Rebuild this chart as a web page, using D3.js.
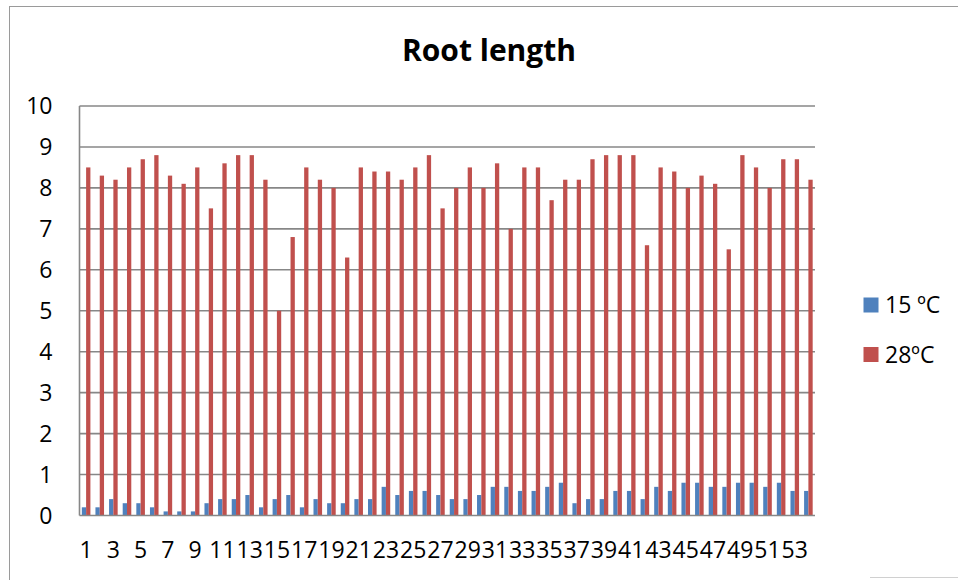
<!DOCTYPE html>
<html>
<head>
<meta charset="utf-8">
<script src="https://cdn.jsdelivr.net/npm/d3@7"></script>
<style>
  html, body { margin: 0; padding: 0; background: #fff; }
  svg { display: block; font-family: "Open Sans", "Liberation Sans", sans-serif; }
</style>
</head>
<body>
<svg id="chart" width="958" height="580"></svg>
<script>
const categories = d3.range(1, 55).map(String);
const seriesNames = ["15 ºC", "28ºC"];
const values15 = [0.2,0.2,0.4,0.3,0.3,0.2,0.1,0.1,0.1,0.3,0.4,0.4,0.5,0.2,0.4,0.5,0.2,0.4,0.3,0.3,
  0.4,0.4,0.7,0.5,0.6,0.6,0.5,0.4,0.4,0.5,0.7,0.7,0.6,0.6,0.7,0.8,0.3,0.4,0.4,0.6,
  0.6,0.4,0.7,0.6,0.8,0.8,0.7,0.7,0.8,0.8,0.7,0.8,0.6,0.6];
const values28 = [8.5,8.3,8.2,8.5,8.7,8.8,8.3,8.1,8.5,7.5,8.6,8.8,8.8,8.2,5.0,6.8,8.5,8.2,8.0,6.3,
  8.5,8.4,8.4,8.2,8.5,8.8,7.5,8.0,8.5,8.0,8.6,7.0,8.5,8.5,7.7,8.2,8.2,8.7,8.8,8.8,
  8.8,6.6,8.5,8.4,8.0,8.3,8.1,6.5,8.8,8.5,8.0,8.7,8.7,8.2];
const yTicks = [0,1,2,3,4,5,6,7,8,9,10];
const xTickLabels = categories.filter((d, i) => i % 2 === 0);
const title = "Root length";
const colors = ["#4F81BD", "#C0504D"];

const svg = d3.select("#chart");
const plot = { left: 79.5, right: 815, top: 106, bottom: 515.5 };

// outer frame (bottom edge falls just outside the view)
svg.append("rect")
  .attr("x", 9.5).attr("y", 6.5).attr("width", 960).attr("height", 580)
  .attr("fill", "none").attr("stroke", "#9a9a9a").attr("stroke-width", 1);
svg.append("line").attr("x1", 870).attr("x2", 958).attr("y1", 577.5).attr("y2", 577.5)
  .attr("stroke", "#d0d0d0").attr("stroke-width", 1);

const x = d3.scaleBand().domain(categories).range([plot.left, plot.right]).paddingInner(0.37).paddingOuter(0.17);
const xs = d3.scaleBand().domain([0, 1]).range([0, x.bandwidth()]);
const y = d3.scaleLinear().domain([0, 10]).range([plot.bottom, plot.top]);

// gridlines
svg.append("g").selectAll("line").data(yTicks.filter(d => d > 0)).join("line")
  .attr("x1", plot.left).attr("x2", plot.right)
  .attr("y1", d => y(d)).attr("y2", d => y(d))
  .attr("stroke", "#878787").attr("stroke-width", 1.6);

// y axis labels
const yAxis = d3.axisLeft(y).tickValues(yTicks).tickSize(0).tickPadding(27).tickFormat(d3.format("d"));
const gy = svg.append("g").attr("transform", `translate(${plot.left},0)`).call(yAxis);
gy.select(".domain").remove();
gy.selectAll("text").attr("font-size", 23).attr("fill", "#000").attr("font-family", "Open Sans").attr("dy", "0.33em");

// bars
const series = [values15, values28];
series.forEach((vals, si) => {
  svg.append("g").selectAll("rect").data(vals).join("rect")
    .attr("x", (d, i) => x(categories[i]) + xs(si))
    .attr("width", xs.bandwidth())
    .attr("y", d => y(d))
    .attr("height", d => y(0) - y(d))
    .attr("fill", colors[si]);
});

// axes lines
svg.append("line").attr("x1", plot.left).attr("x2", plot.left).attr("y1", plot.top).attr("y2", plot.bottom)
  .attr("stroke", "#878787").attr("stroke-width", 1.6);
svg.append("line").attr("x1", plot.left).attr("x2", plot.right).attr("y1", plot.bottom).attr("y2", plot.bottom)
  .attr("stroke", "#878787").attr("stroke-width", 1.6);

// x axis labels
const xAxis = d3.axisBottom(x).tickValues(xTickLabels).tickSize(0).tickPadding(26);
const gx = svg.append("g").attr("transform", `translate(0,${plot.bottom})`).call(xAxis);
gx.select(".domain").remove();
gx.selectAll("text").attr("font-size", 23).attr("fill", "#000").attr("font-family", "Open Sans");

// title
svg.append("text").attr("x", 489).attr("y", 61).attr("text-anchor", "middle")
  .attr("font-size", 30).attr("font-weight", "bold").attr("fill", "#000").text(title);

// legend
const lg = svg.append("g");
seriesNames.forEach((name, i) => {
  const yy = 297.5 + i * 49.5;
  lg.append("rect").attr("x", 863.5).attr("y", yy).attr("width", 15).attr("height", 15).attr("fill", colors[i]);
  lg.append("text").attr("x", 885).attr("y", yy + 7.5).attr("dy", "0.35em")
    .attr("font-size", 23).attr("fill", "#000").text(name);
});
</script>
</body>
</html>
